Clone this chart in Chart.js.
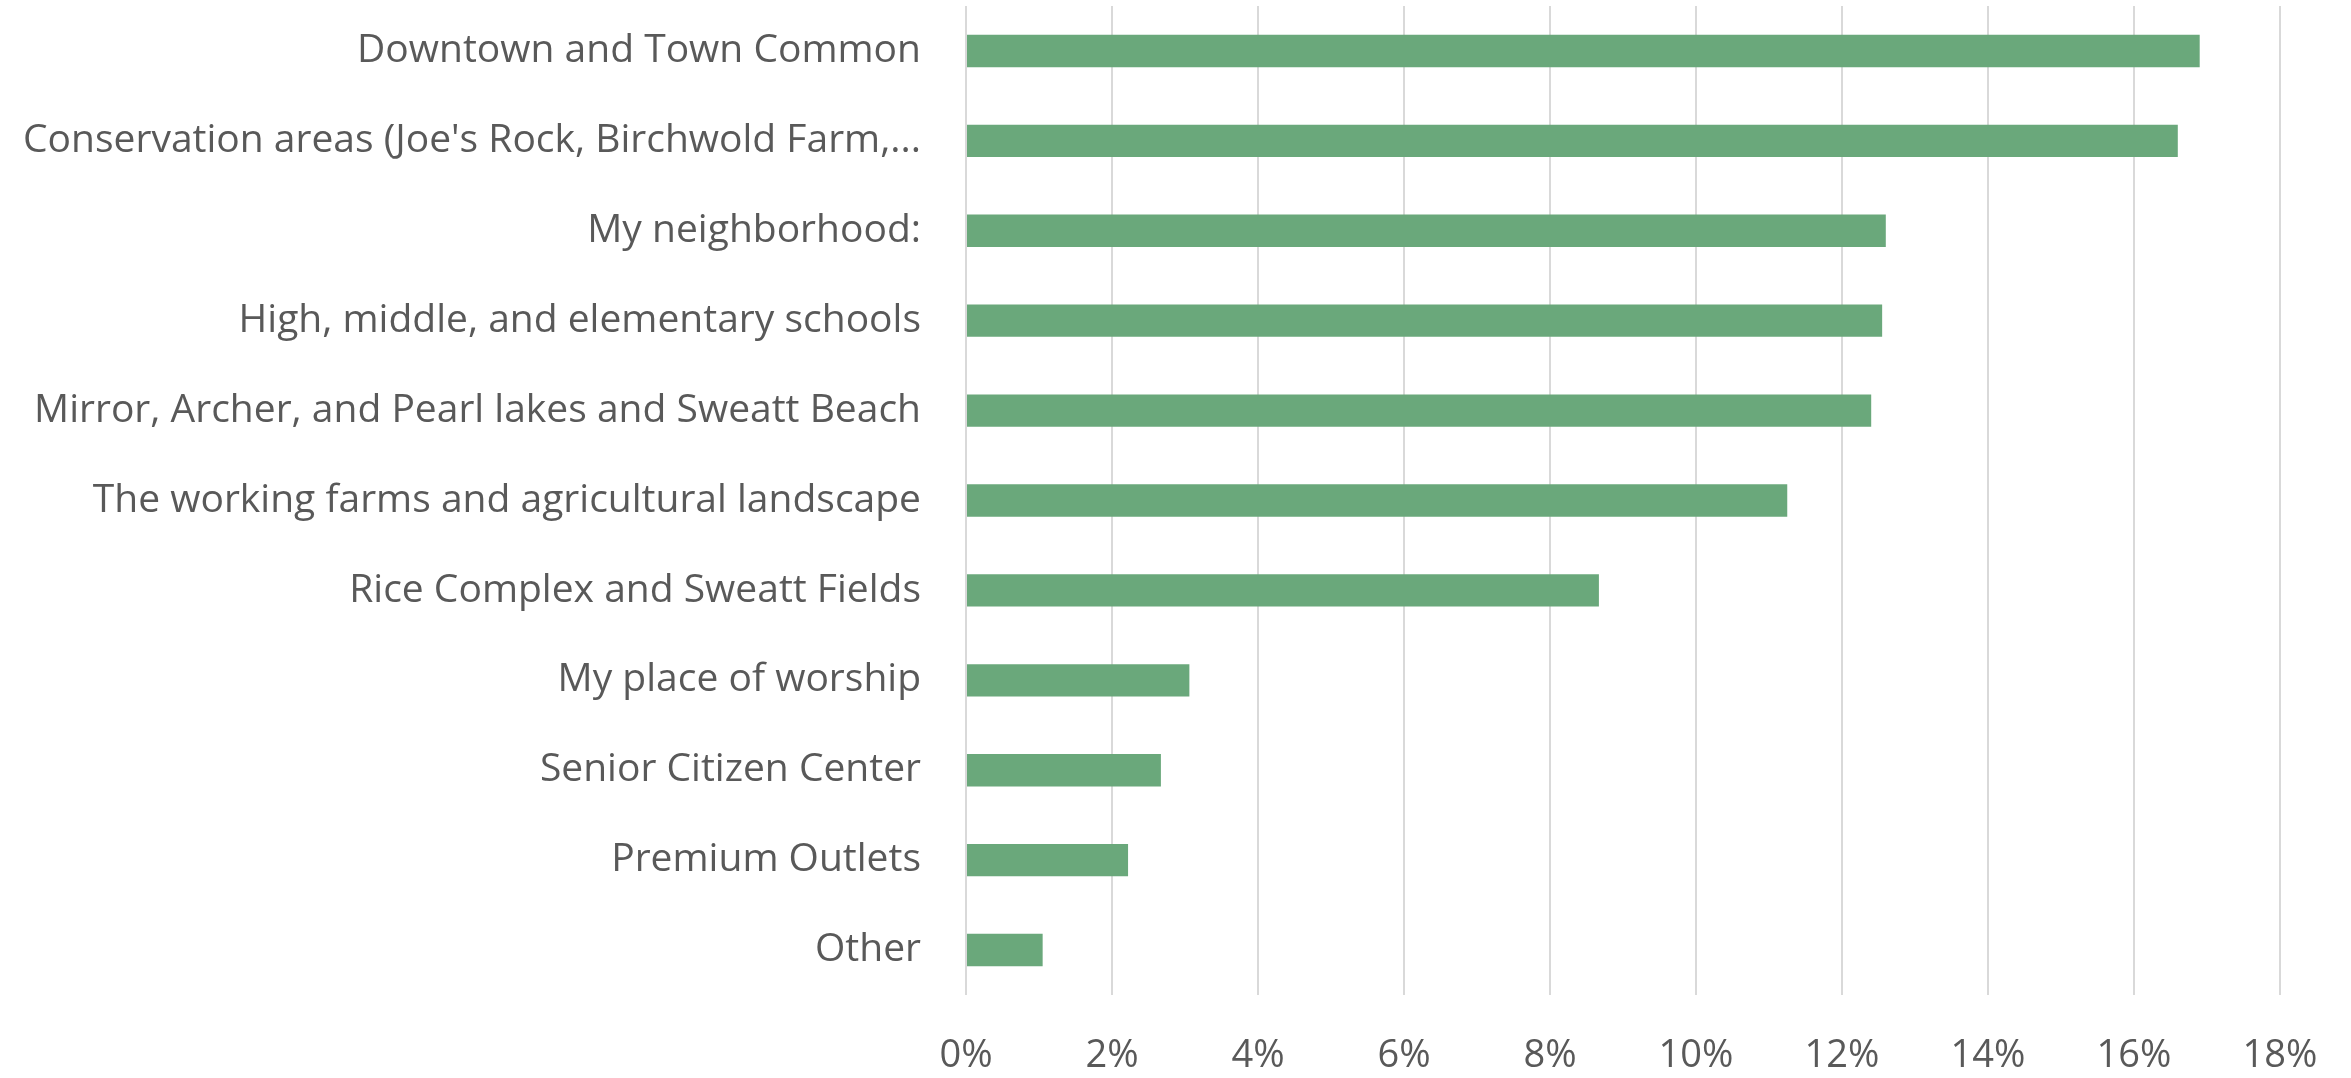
<!DOCTYPE html>
<html>
<head>
<meta charset="utf-8">
<script src="https://cdn.jsdelivr.net/npm/chart.js@4"></script>
<style>
  html, body { margin: 0; padding: 0; background: #fff; }
  #wrap { width: 2351px; height: 1078px; }
</style>
</head>
<body>
<div id="wrap"><canvas id="places-bar"></canvas></div>
<script>
var place_labels = [
    'Downtown and Town Common',
    "Conservation areas (Joe's Rock, Birchwold Farm,...",
    'My neighborhood:',
    'High, middle, and elementary schools',
    'Mirror, Archer, and Pearl lakes and Sweatt Beach',
    'The working farms and agricultural landscape',
    'Rice Complex and Sweatt Fields',
    'My place of worship',
    'Senior Citizen Center',
    'Premium Outlets',
    'Other'
];
var place_share = [16.9, 16.6, 12.6, 12.55, 12.4, 11.25, 8.67, 3.06, 2.67, 2.22, 1.05];
var x_ticks = [0, 2, 4, 6, 8, 10, 12, 14, 16, 18];

var ctx = document.getElementById('places-bar');
var barChart = new Chart(ctx, {
    type: 'bar',
    data: {
        labels: place_labels,
        datasets: [{
            label: 'Share',
            data: place_share,
            backgroundColor: '#6aa87b',
            borderWidth: 0,
            barPercentage: 0.36,
            categoryPercentage: 1
        }]
    },
    options: {
        indexAxis: 'y',
        responsive: true,
        maintainAspectRatio: false,
        animation: false,
        layout: {
            padding: { top: 6, right: 71, left: 0, bottom: 0 }
        },
        plugins: {
            legend: { display: false },
            tooltip: { enabled: false }
        },
        scales: {
            x: {
                min: 0,
                max: 18,
                afterBuildTicks: function(scale) {
                    scale.ticks = x_ticks.map(function(v) { return { value: v }; });
                },
                afterFit: function(scale) {
                    scale.height = 83;
                    scale.paddingLeft = 0;
                    scale.paddingRight = 0;
                },
                grid: {
                    color: '#d9d9d9',
                    lineWidth: 2,
                    drawTicks: false
                },
                border: { display: false },
                ticks: {
                    padding: 38,
                    color: '#595959',
                    font: { family: 'Open Sans', size: 38 },
                    callback: function(value) { return value + '%'; }
                }
            },
            y: {
                afterFit: function(scale) {
                    scale.width = 966;
                    scale.paddingTop = 0;
                    scale.paddingBottom = 0;
                },
                grid: { display: false, drawTicks: false },
                border: { display: false },
                ticks: {
                    padding: 45,
                    color: '#595959',
                    font: { family: 'Open Sans', size: 39 }
                }
            }
        }
    }
});
</script>
</body>
</html>
